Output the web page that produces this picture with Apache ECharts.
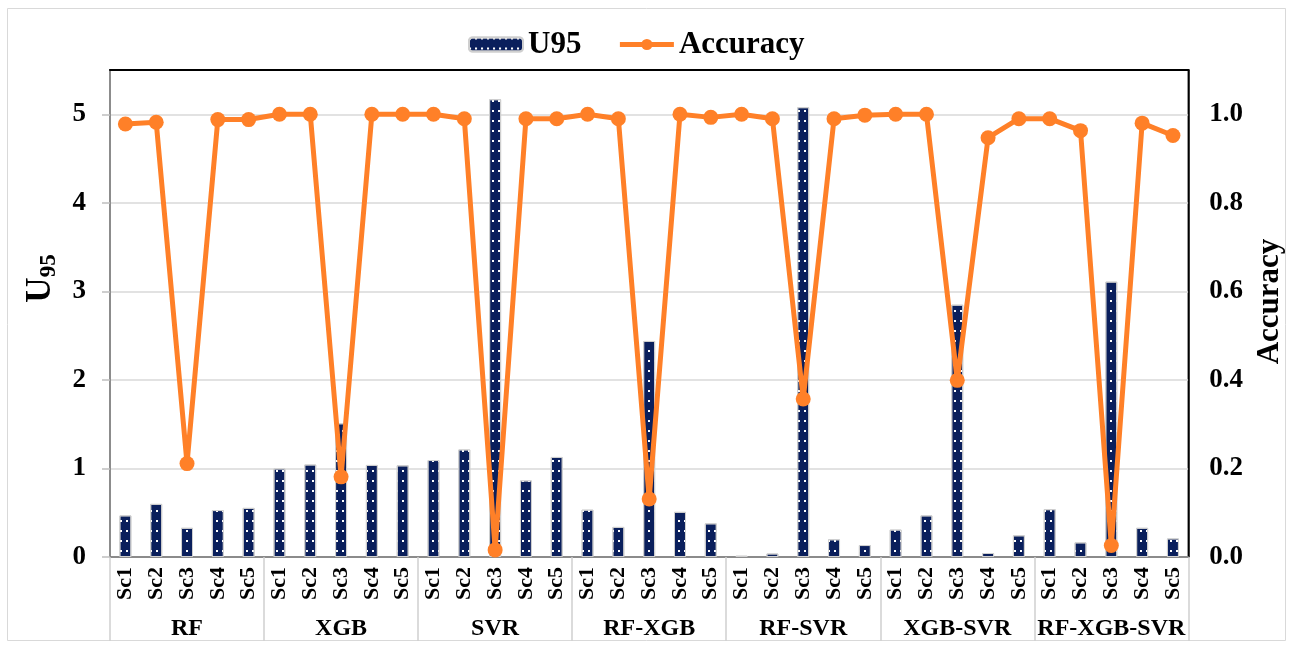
<!DOCTYPE html>
<html>
<head>
<meta charset="utf-8">
<script src="https://cdn.jsdelivr.net/npm/echarts@6/dist/echarts.min.js"></script>
<style>html,body{margin:0;padding:0;background:#fff;}#c{width:1293px;height:651px;}</style>
</head>
<body>
<div id="c"></div>
<script>
var groups = ['RF', 'XGB', 'SVR', 'RF-XGB', 'RF-SVR', 'XGB-SVR', 'RF-XGB-SVR'];
var scenarios = ['Sc1', 'Sc2', 'Sc3', 'Sc4', 'Sc5'];
var u95 = [
  0.47, 0.60, 0.33, 0.53, 0.555,
  1.00, 1.045, 1.51, 1.04, 1.035,
  1.095, 1.215, 5.17, 0.865, 1.13,
  0.535, 0.34, 2.44, 0.51, 0.38,
  0.015, 0.04, 5.08, 0.20, 0.135,
  0.31, 0.47, 2.85, 0.045, 0.245,
  0.54, 0.165, 3.11, 0.33, 0.21
];
var accuracy = [
  0.978, 0.982, 0.211, 0.988, 0.988,
  1.0, 1.0, 0.181, 1.0, 1.0,
  1.0, 0.99, 0.016, 0.99, 0.99,
  1.0, 0.99, 0.131, 1.0, 0.993,
  1.0, 0.99, 0.357, 0.99, 0.998,
  1.0, 1.0, 0.399, 0.947, 0.99,
  0.99, 0.963, 0.026, 0.98, 0.952
];
var leftTicks = [0, 1, 2, 3, 4, 5];
var rightTicks = [0.0, 0.2, 0.4, 0.6, 0.8, 1.0];

var cats = [];
groups.forEach(function (g) { scenarios.forEach(function (s) { cats.push(s); }); });

var FF = '"Liberation Serif", "Times New Roman", serif';
var chart = echarts.init(document.getElementById('c'));
chart.setOption({
  animation: false,
  backgroundColor: '#fff',
  graphic: [{
    type: 'rect', shape: { x: 7.5, y: 8.5, width: 1278, height: 632 },
    style: { fill: 'none', stroke: '#d9d9d9', lineWidth: 1 }, silent: true, z: -1
  }],
  legend: {
    top: 24, left: 463,
    itemGap: 36, itemWidth: 54, itemHeight: 14,
    textStyle: { fontFamily: FF, fontWeight: 'bold', fontSize: 31, color: '#000' },
    data: [{ name: 'U95' }, { name: 'Accuracy', lineStyle: { width: 5 } }]
  },
  grid: {
    left: 110, right: 103, top: 70, bottom: 94,
    show: true, borderColor: '#000', borderWidth: 1.5, containLabel: false
  },
  xAxis: [{
    type: 'category', data: cats, position: 'bottom',
    axisLine: { lineStyle: { color: '#7f7f7f', width: 1.5 } },
    axisTick: { show: false },
    axisLabel: { rotate: 90, margin: 10, interval: 0, fontFamily: FF, fontWeight: 'bold', fontSize: 22, color: '#000' }
  }, {
    type: 'category', data: groups, position: 'bottom',
    axisLine: { show: false },
    axisTick: { show: true, length: 84, lineStyle: { color: '#d0d0d0', width: 1.5 } },
    axisLabel: { margin: 60, interval: 0, fontFamily: FF, fontWeight: 'bold', fontSize: 24, color: '#000' }
  }, {
    type: 'category', data: cats, position: 'top',
    axisLine: { show: true, lineStyle: { color: '#000', width: 2 } },
    axisTick: { show: false }, axisLabel: { show: false }, splitLine: { show: false }
  }],
  yAxis: [{
    type: 'value', min: 0, max: 5.5, interval: 1,
    name: '{u|U}{s|95}', nameLocation: 'middle', nameGap: 50, nameRotate: 90,
    nameTextStyle: {
      padding: [0, 0, 0, 70],
      rich: {
        u: { fontFamily: FF, fontWeight: 'bold', fontSize: 35, color: '#000', lineHeight: 38 },
        s: { fontFamily: FF, fontWeight: 'bold', fontSize: 23, color: '#000', lineHeight: 38, padding: [16, 0, 0, 0] }
      }
    },
    axisLine: { show: true, lineStyle: { color: '#8c8c8c', width: 2 } },
    axisTick: { show: true, length: 8, lineStyle: { color: '#bfbfbf', width: 1.5 } },
    axisLabel: { showMaxLabel: false, margin: 24, fontFamily: FF, fontWeight: 'bold', fontSize: 27, color: '#000',
      formatter: function (v) { return leftTicks.indexOf(v) >= 0 ? String(v) : ''; } },
    splitLine: { show: true, lineStyle: { color: '#d9d9d9', width: 1.5 } }
  }, {
    type: 'value', min: 0, max: 1.1, interval: 0.2, position: 'right',
    name: 'Accuracy', nameLocation: 'middle', nameGap: 64, nameRotate: 90,
    nameTextStyle: { fontFamily: FF, fontWeight: 'bold', fontSize: 31, color: '#000', padding: [0, 0, 0, 24] },
    axisLine: { show: true, lineStyle: { color: '#000', width: 1.5 } },
    axisTick: { show: false },
    axisLabel: { showMaxLabel: false, margin: 21, fontFamily: FF, fontWeight: 'bold', fontSize: 27, color: '#000',
      formatter: function (v) {
        for (var i = 0; i < rightTicks.length; i++) { if (Math.abs(rightTicks[i] - v) < 1e-6) return rightTicks[i].toFixed(1); }
        return '';
      } },
    splitLine: { show: false }
  }],
  series: [{
    name: 'U95', type: 'bar', xAxisIndex: 0, yAxisIndex: 0, data: u95, barWidth: 12,
    itemStyle: {
      color: '#0a1f5c', borderColor: '#cfcfcf', borderWidth: 1,
      decal: { symbol: 'rect', symbolSize: 1, color: '#ffffff', dashArrayX: [1.5, 3.5], dashArrayY: [1.5, 7.5], rotation: 0 }
    },
    z: 2
  }, {
    name: 'Accuracy', type: 'line', xAxisIndex: 0, yAxisIndex: 1, data: accuracy,
    symbol: 'circle', symbolSize: 15, showAllSymbol: true,
    lineStyle: { color: '#ff8028', width: 5 },
    itemStyle: { color: '#ff8028' },
    z: 3
  }]
});
</script>
</body>
</html>
